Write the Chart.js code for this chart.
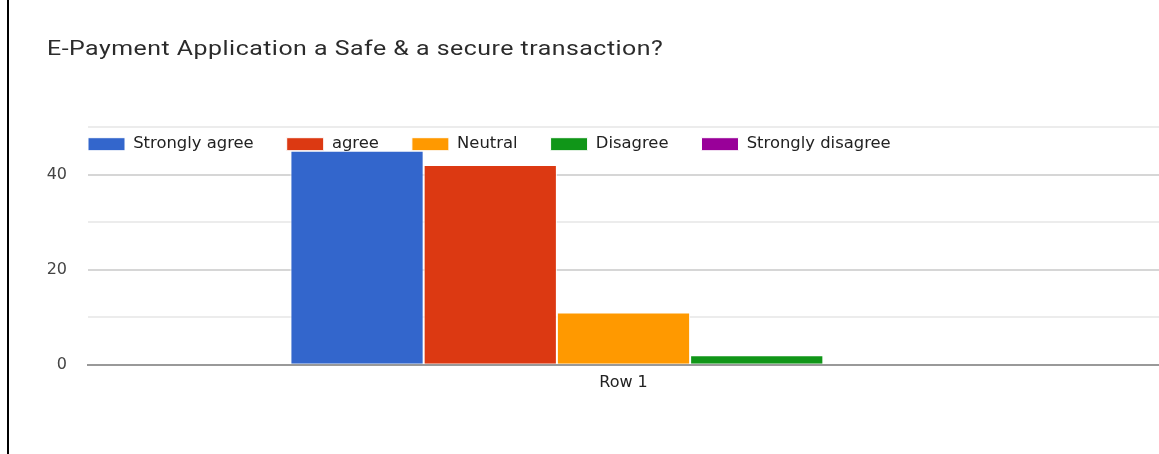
<!DOCTYPE html>
<html>
<head>
<meta charset="utf-8">
<script src="https://cdn.jsdelivr.net/npm/chart.js@4/dist/chart.umd.min.js"></script>
<style>
  html, body { margin: 0; padding: 0; background: #fff; }
  #wrap { position: relative; width: 1159px; height: 454px; overflow: hidden; }
  #edge { position: absolute; left: 7px; top: 0; width: 2px; height: 454px; background: #000; }
  #chart { position: absolute; left: 0; top: 0; }
  #title {
    position: absolute; left: 47px; top: 36px;
    font-family: Roboto, sans-serif; font-size: 20px; line-height: 24px;
    color: #2b2b2b; letter-spacing: 0.4px; white-space: nowrap;
    transform: scaleX(1.245); transform-origin: 0 0;
  }
</style>
</head>
<body>
<div id="wrap">
  <canvas id="chart" width="1159" height="454"></canvas>
  <div id="title"></div>
  <div id="edge"></div>
</div>
<script>
// Chart data
const titleText = 'E-Payment Application a Safe & a secure transaction?';
const categories = ['Row 1'];
const seriesNames = ['Strongly agree', 'agree', 'Neutral', 'Disagree', 'Strongly disagree'];
const seriesValues = [[45], [42], [11], [2], [0]];
const seriesColors = ['#3366cc', '#dc3912', '#ff9900', '#109618', '#990099'];
const yMax = 50;
const yStep = 10;
const labelEvery = 20;

document.getElementById('title').textContent = titleText;

// Legend sits inside the plot area, like Google Charts draws it
const LEGEND_LEFT = 55;
const LEGEND_TOP = 103;

const overlayLegend = {
  id: 'overlayLegend',
  beforeInit(chart) {
    const legend = chart.legend;
    const fit = legend.fit;
    legend.fit = function () {
      fit.call(this);
      this._fullHeight = this.height;
      this.height = 0;
    };
  },
  afterLayout(chart) {
    const legend = chart.legend;
    legend.left = LEGEND_LEFT;
    legend.top = LEGEND_TOP;
    legend.height = legend._fullHeight;
    legend.bottom = LEGEND_TOP + legend._fullHeight;
  }
};

const datasets = seriesNames.map((name, i) => ({
  label: name,
  data: seriesValues[i],
  backgroundColor: seriesColors[i],
  borderColor: '#ffffff',
  borderWidth: 1
}));

new Chart(document.getElementById('chart'), {
  type: 'bar',
  data: { labels: categories, datasets: datasets },
  plugins: [overlayLegend],
  options: {
    responsive: false,
    animation: false,
    layout: { padding: { left: 47, right: 0, top: 127, bottom: 54 } },
    datasets: {
      bar: { categoryPercentage: 0.622, barPercentage: 1 }
    },
    plugins: {
      title: { display: false },
      legend: {
        position: 'top',
        align: 'start',
        labels: {
          boxWidth: 37,
          boxHeight: 13,
          padding: 33,
          color: '#222222',
          font: { family: 'DejaVu Sans', size: 16.4 }
        }
      },
      tooltip: { enabled: false }
    },
    scales: {
      x: {
        grid: { display: false, drawTicks: false },
        border: { display: true, color: '#999999', width: 2 },
        ticks: {
          color: '#222222',
          padding: 8,
          font: { family: 'DejaVu Sans', size: 16 }
        }
      },
      y: {
        min: 0,
        max: yMax,
        afterFit: function (scale) { scale.width = 41; },
        border: { display: false },
        grid: {
          drawTicks: false,
          color: function (ctx) {
            const v = ctx.tick ? ctx.tick.value : 0;
            if (v === 0) return 'rgba(0,0,0,0)';
            return v % labelEvery === 0 ? '#d6d6d6' : '#ececec';
          },
          lineWidth: 2
        },
        ticks: {
          stepSize: yStep,
          padding: 21,
          color: '#444444',
          font: { family: 'DejaVu Sans', size: 16 },
          callback: function (value) {
            return value % labelEvery === 0 ? value : '';
          }
        }
      }
    }
  }
});
</script>
</body>
</html>
